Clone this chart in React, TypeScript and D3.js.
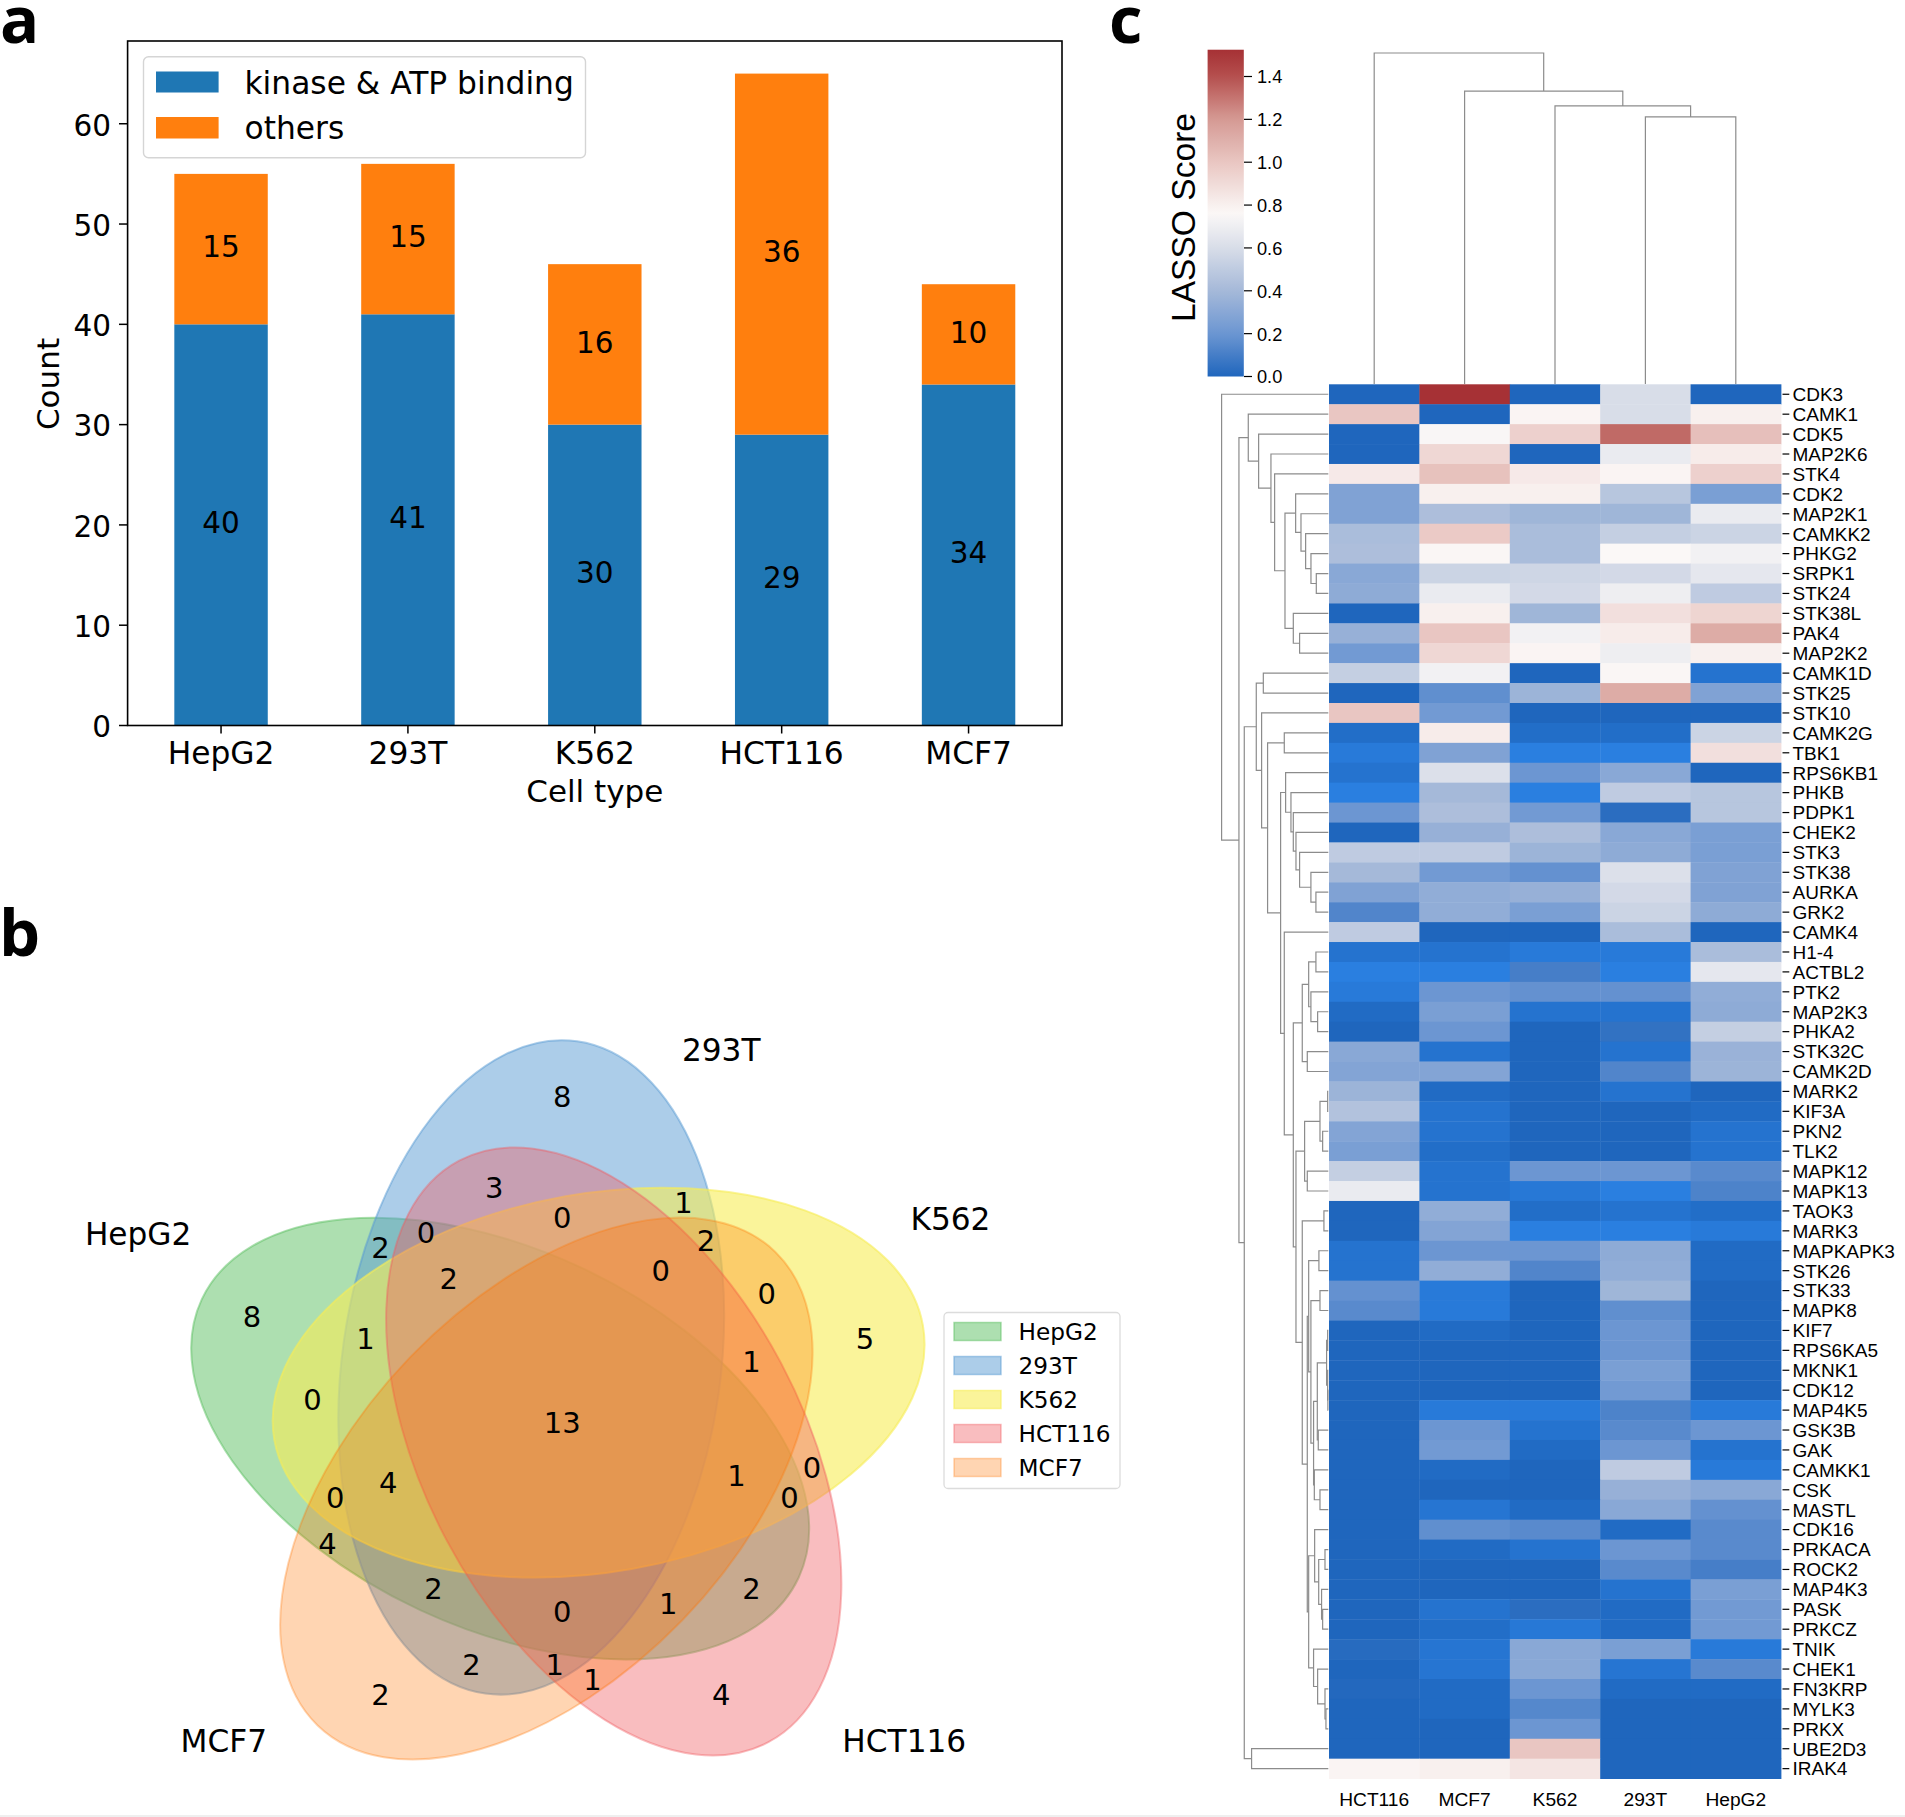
import React from "react";
import * as d3 from "d3";

/* ---------- panel a data ---------- */
const cellTypes = ["HepG2", "293T", "K562", "HCT116", "MCF7"];
const kinaseCounts = [40, 41, 30, 29, 34];
const otherCounts = [15, 15, 16, 36, 10];
const barTicks = [0, 10, 20, 30, 40, 50, 60];

/* ---------- panel b data (pyvenn 5-set layout, unit square) ---------- */
const vennNames = ["HepG2", "293T", "K562", "HCT116", "MCF7"];
const vennColors = ["rgb(92,192,98)", "rgb(90,155,212)", "rgb(246,236,86)", "rgb(241,90,96)", "rgb(255,117,0)"];
const vennAlpha = [0.5, 0.5, 0.6, 0.4, 0.3];
const vennEllipses: [number, number, number][] = [
  [0.428, 0.449, 155],
  [0.469, 0.543, 82],
  [0.558, 0.523, 10],
  [0.578, 0.432, 118],
  [0.489, 0.383, 46],
];
const vennNameAnchors: [number, number, string][] = [
  [0.02, 0.72, "end"],
  [0.72, 0.962, "middle"],
  [0.97, 0.74, "start"],
  [0.88, 0.05, "start"],
  [0.12, 0.05, "end"],
];
const vennRegions: [number, number, number][] = [
  [0.27, 0.11, 2], [0.72, 0.11, 4], [0.55, 0.13, 1], [0.91, 0.58, 5], [0.78, 0.64, 0], [0.84, 0.41, 0],
  [0.76, 0.55, 1], [0.51, 0.9, 8], [0.39, 0.15, 2], [0.42, 0.78, 3], [0.5, 0.15, 1], [0.67, 0.76, 1],
  [0.7, 0.71, 2], [0.51, 0.74, 0], [0.64, 0.67, 0], [0.1, 0.61, 8], [0.2, 0.31, 4], [0.76, 0.25, 2],
  [0.65, 0.23, 1], [0.18, 0.5, 0], [0.21, 0.37, 0], [0.81, 0.37, 0], [0.74, 0.4, 1], [0.27, 0.7, 2],
  [0.34, 0.25, 2], [0.33, 0.72, 0], [0.51, 0.22, 0], [0.25, 0.58, 1], [0.28, 0.39, 4], [0.36, 0.66, 2],
  [0.51, 0.47, 13],
];

/* ---------- panel c data ---------- */
const heatColumns = ["HCT116", "MCF7", "K562", "293T", "HepG2"];
const heatRows = [
  "CDK3", "CAMK1", "CDK5", "MAP2K6", "STK4", "CDK2", "MAP2K1", "CAMKK2", "PHKG2", "SRPK1",
  "STK24", "STK38L", "PAK4", "MAP2K2", "CAMK1D", "STK25", "STK10", "CAMK2G", "TBK1", "RPS6KB1",
  "PHKB", "PDPK1", "CHEK2", "STK3", "STK38", "AURKA", "GRK2", "CAMK4", "H1-4", "ACTBL2",
  "PTK2", "MAP2K3", "PHKA2", "STK32C", "CAMK2D", "MARK2", "KIF3A", "PKN2", "TLK2", "MAPK12",
  "MAPK13", "TAOK3", "MARK3", "MAPKAPK3", "STK26", "STK33", "MAPK8", "KIF7", "RPS6KA5", "MKNK1",
  "CDK12", "MAP4K5", "GSK3B", "GAK", "CAMKK1", "CSK", "MASTL", "CDK16", "PRKACA", "ROCK2",
  "MAP4K3", "PASK", "PRKCZ", "TNIK", "CHEK1", "FN3KRP", "MYLK3", "PRKX", "UBE2D3", "IRAK4",
];
// Values below 0 stand for the brighter blue tones visible among the near-zero cells of the picture.
const heatValues: number[][] = [
  [0, 1.52, 0, 0.6, 0], [1, 0, 0.78, 0.6, 0.8], [0, 0.75, 0.95, 1.33, 1.03], [0, 0.92, 0, 0.68, 0.82], [0.83, 1.02, 0.83, 0.78, 0.95],
  [0.27, 0.8, 0.8, 0.47, 0.25], [0.27, 0.43, 0.38, 0.38, 0.68], [0.42, 0.98, 0.42, 0.52, 0.55], [0.43, 0.77, 0.42, 0.76, 0.72], [0.3, 0.55, 0.56, 0.58, 0.66],
  [0.32, 0.68, 0.58, 0.7, 0.5], [0, 0.8, 0.38, 0.88, 0.93], [0.35, 1, 0.72, 0.82, 1.12], [0.22, 0.92, 0.78, 0.7, 0.8], [0.52, 0.72, 0, 0.77, -0.05],
  [0, 0.17, 0.37, 1.12, 0.27], [1, 0.22, 0, 0, 0], [-0.03, 0.82, -0.03, -0.03, 0.55], [-0.08, 0.27, -0.1, -0.1, 0.88], [-0.05, 0.62, 0.2, 0.3, 0],
  [-0.1, 0.4, -0.1, 0.5, 0.47], [0.2, 0.43, 0.22, 0.03, 0.47], [0, 0.35, 0.43, 0.3, 0.25], [0.5, 0.5, 0.37, 0.32, 0.25], [0.4, 0.22, 0.18, 0.62, 0.27],
  [0.27, 0.33, 0.35, 0.58, 0.27], [0.13, 0.33, 0.25, 0.55, 0.32], [0.5, 0, 0, 0.42, 0], [-0.05, -0.05, -0.08, -0.08, 0.42], [-0.1, -0.1, 0.1, -0.1, 0.66],
  [-0.08, 0.2, 0.18, 0.18, 0.33], [-0.02, 0.25, -0.05, -0.05, 0.32], [0, 0.2, 0, 0.05, 0.52], [0.3, -0.05, 0, -0.05, 0.36], [0.28, 0.28, 0, 0.13, 0.37],
  [0.37, -0.02, 0, -0.05, 0], [0.45, -0.05, 0, 0, -0.02], [0.28, -0.05, 0, 0, -0.05], [0.25, -0.03, 0, 0, -0.05], [0.52, -0.05, 0.2, 0.2, 0.15],
  [0.68, -0.05, -0.07, -0.1, 0.12], [0, 0.33, -0.03, -0.05, -0.03], [0, 0.28, -0.1, -0.1, -0.08], [-0.05, 0.2, 0.2, 0.32, -0.02], [-0.05, 0.33, 0.13, 0.33, -0.02],
  [0.18, -0.08, 0, 0.38, 0], [0.15, -0.08, 0, 0.17, 0], [0, -0.02, 0, 0.2, 0], [0, 0, 0, 0.2, 0], [0, 0, 0, 0.25, 0],
  [0, 0, 0, 0.22, 0], [0, -0.08, -0.08, 0.12, -0.08], [0, 0.2, -0.05, 0.15, 0.2], [0, 0.22, -0.02, 0.2, -0.05], [0, -0.02, 0, 0.5, -0.08],
  [0, 0, 0, 0.35, 0.3], [0, -0.06, -0.02, 0.3, 0.18], [0, 0.17, 0.15, -0.02, 0.15], [0, -0.02, -0.05, 0.2, 0.15], [0, 0, 0, 0.15, 0.1],
  [0, 0, 0, -0.05, 0.25], [0, -0.05, 0.03, -0.02, 0.22], [0, -0.03, -0.07, -0.02, 0.22], [0.02, -0.06, 0.3, 0.25, -0.08], [0, -0.06, 0.3, -0.06, 0.15],
  [0.01, -0.02, 0.2, -0.02, -0.02], [0, -0.02, 0.14, 0, 0], [0, 0, 0.2, 0, 0], [0, 0, 1, 0, 0], [0.78, 0.8, 0.85, 0, 0],
];
const colorDomain = [-0.1, 0, 0.2, 0.4, 0.6, 0.76, 1.0, 1.2, 1.4, 1.52];
const colorRange = ["#2a7fe0", "#1f66bd", "#6c96d2", "#a5b9d9", "#d8dde8", "#fbf8f7", "#e9c6c2", "#d59a94", "#b5504e", "#a63135"];
const colorbarTicks = [0, 0.2, 0.4, 0.6, 0.8, 1.0, 1.2, 1.4];
const colorbarMax = 1.525;

type Node = { h: number; a: Node | string; b: Node | string };
const n = (h: number, a: Node | string, b: Node | string): Node => ({ h, a, b });

const columnTree = n(1, "HCT116", n(0.885, "MCF7", n(0.84, "K562", n(0.807, "293T", "HepG2"))));

const upperGroup = n(0.406,
  n(0.306, "CDK2", n(0.256, "MAP2K1", n(0.2125, "CAMKK2", n(0.1625, "PHKG2", n(0.1125, "SRPK1", "STK24"))))),
  n(0.328, "STK38L", n(0.269, "PAK4", "MAP2K2")));
const camk1Group = n(0.75, "CAMK1", n(0.653, "CDK5", n(0.5375, "MAP2K6", n(0.503, "STK4", upperGroup))));
const rpsGroup = n(0.4, "RPS6KB1", n(0.35, "PHKB", n(0.328, "PDPK1", n(0.303, "CHEK2", n(0.269, "STK3", n(0.163, "STK38", n(0.116, "AURKA", "GRK2")))))));
const h14Group = n(0.244,
  n(0.184, n(0.116, "H1-4", "ACTBL2"), n(0.163, "PTK2", n(0.1, "MAP2K3", "PHKA2"))),
  n(0.197, "STK32C", "CAMK2D"));
const markGroup = n(0.222,
  n(0.078, n(0.006, "MARK2", "KIF3A"), n(0.053, "PKN2", "TLK2")),
  n(0.197, "MAPK12", "MAPK13"));
const kif7Group = n(0.016, n(0.006, "KIF7", "RPS6KA5"), n(0.006, "MKNK1", n(0.004, "CDK12", "MAP4K5")));
const stk33Group = n(0.163,
  n(0.078, "STK33", "MAPK8"),
  n(0.138, n(0.103, kif7Group, n(0.094, "GSK3B", "GAK")), n(0.131, "CAMKK1", n(0.078, "CSK", "MASTL"))));
const mapkapGroup = n(0.184, n(0.088, "MAPKAPK3", "STK26"), stk33Group);
const cdk16Group = n(0.128, "CDK16", n(0.09, n(0.031, "PRKACA", "ROCK2"), n(0.063, "MAP4K3", n(0.053, "PASK", "PRKCZ"))));
const tnikGroup = n(0.138, "TNIK", n(0.1, "CHEK1", n(0.031, "FN3KRP", n(0.022, "MYLK3", "PRKX"))));
const lowGroup = n(0.303, markGroup, n(0.244, n(0.041, "TAOK3", "MARK3"), n(0.197, mapkapGroup, n(0.184, cdk16Group, tnikGroup))));
const camk4Group = n(0.4125, "CAMK4", n(0.328, h14Group, lowGroup));
const stk10Group = n(0.625, "STK10", n(0.569, n(0.4125, "CAMK2G", "TBK1"), n(0.447, rpsGroup, camk4Group)));
const bigGroup = n(0.675, n(0.609, "CAMK1D", "STK25"), stk10Group);
const rowTree = n(1, "CDK3", n(0.8375, camk1Group, n(0.7875, bigGroup, n(0.719, "UBE2D3", "IRAK4"))));

/* ---------- helpers ---------- */
const SANS = "'DejaVu Sans'";
const ARIAL = "'Liberation Sans'";

// Returns link segments of a dendrogram: pos(leaf) along the leaf axis, dist(h) along the height axis.
function dendroPaths(tree: Node, pos: (s: string) => number, dist: (h: number) => number, horizontal: boolean) {
  const paths: string[] = [];
  const walk = (t: Node | string): { p: number; h: number } => {
    if (typeof t === "string") return { p: pos(t), h: 0 };
    const a = walk(t.a);
    const b = walk(t.b);
    const path = d3.path();
    const pt = (p: number, h: number) => (horizontal ? [dist(h), p] : [p, dist(h)]) as [number, number];
    path.moveTo(...pt(a.p, a.h));
    path.lineTo(...pt(a.p, t.h));
    path.lineTo(...pt(b.p, t.h));
    path.lineTo(...pt(b.p, b.h));
    paths.push(path.toString());
    return { p: (a.p + b.p) / 2, h: t.h };
  };
  walk(tree);
  return paths;
}

function BarPanel() {
  const x = d3.scaleLinear().domain([-0.5, 4.5]).range([127.6, 1062]);
  const y = d3.scaleLinear().domain([0, 68.25]).range([725.5, 41]);
  const rows = cellTypes.map((c, i) => ({ c, i, kinase: kinaseCounts[i], others: otherCounts[i] }));
  const stack = d3.stack<any>().keys(["kinase", "others"])(rows);
  const colors = ["#1f77b4", "#ff7f0e"];
  const bw = x(0.25) - x(0);
  return (
    <g fontFamily={SANS} fill="#000">
      {stack.map((s, si) =>
        s.map((d, i) => (
          <g key={si + "-" + i}>
            <rect x={x(i) - bw} width={bw * 2} y={y(d[1])} height={y(d[0]) - y(d[1])} fill={colors[si]} />
            <text x={x(i)} y={(y(d[0]) + y(d[1])) / 2} dy="0.28em" textAnchor="middle" fontSize={29.5}>
              {d[1] - d[0]}
            </text>
          </g>
        ))
      )}
      <rect x={127.6} y={41} width={934.4} height={684.5} fill="none" stroke="#000" strokeWidth={1.6} />
      {barTicks.map((t) => (
        <g key={t}>
          <line x1={119} x2={127.6} y1={y(t)} y2={y(t)} stroke="#000" strokeWidth={1.5} />
          <text x={111} y={y(t)} dy="0.4em" textAnchor="end" fontSize={29.5}>{t}</text>
        </g>
      ))}
      {cellTypes.map((c, i) => (
        <g key={c}>
          <line x1={x(i)} x2={x(i)} y1={725.5} y2={733.5} stroke="#000" strokeWidth={1.5} />
          <text x={x(i)} y={763.5} textAnchor="middle" fontSize={31.3}>{c}</text>
        </g>
      ))}
      <text x={594.8} y={801.5} textAnchor="middle" fontSize={31}>Cell type</text>
      <text transform="translate(59,384) rotate(-90)" textAnchor="middle" fontSize={31}>Count</text>
      <rect x={143.5} y={56.7} width={442} height={101} rx={5} fill="#fff" fillOpacity={0.8} stroke="#d5d5d5" strokeWidth={1.4} />
      <rect x={156} y={71.5} width={62.6} height={21} fill={colors[0]} />
      <rect x={156} y={117} width={62.6} height={21.5} fill={colors[1]} />
      <text x={244.5} y={94} fontSize={31.3}>kinase &amp; ATP binding</text>
      <text x={244.5} y={138.5} fontSize={31.3}>others</text>
    </g>
  );
}

function VennPanel() {
  const x = d3.scaleLinear().domain([0, 1]).range([176.2, 933.2]);
  const y = d3.scaleLinear().domain([0, 1]).range([1778.5, 1021.5]);
  const k = x(1) - x(0);
  const legendY = d3.scaleLinear().domain([0, 4]).range([1331.5, 1467.5]);
  return (
    <g fontFamily={SANS} fill="#000">
      {vennEllipses.map(([cx, cy, a], i) => (
        <ellipse
          key={i}
          cx={x(cx)}
          cy={y(cy)}
          rx={(0.87 / 2) * k}
          ry={(0.5 / 2) * k}
          transform={`rotate(${-a} ${x(cx)} ${y(cy)})`}
          fill={vennColors[i]}
          fillOpacity={vennAlpha[i]}
          stroke={vennColors[i]}
          strokeOpacity={vennAlpha[i]}
          strokeWidth={2}
        />
      ))}
      {vennRegions.map(([rx, ry, v], i) => (
        <text key={i} x={x(rx)} y={y(ry)} dy="0.34em" textAnchor="middle" fontSize={29}>{v}</text>
      ))}
      {vennNames.map((name, i) => (
        <text key={name} x={x(vennNameAnchors[i][0])} y={y(vennNameAnchors[i][1])} dy="0.36em" textAnchor={vennNameAnchors[i][2] as any} fontSize={31.2}>
          {name}
        </text>
      ))}
      <rect x={944} y={1312.5} width={176} height={176} rx={4} fill="#fff" stroke="#dcdcdc" strokeWidth={1.3} />
      {vennNames.map((name, i) => (
        <g key={name}>
          <rect x={954} y={legendY(i) - 9} width={47} height={18} fill={vennColors[i]} fillOpacity={vennAlpha[i]} stroke={vennColors[i]} strokeOpacity={vennAlpha[i]} strokeWidth={1.5} />
          <text x={1018.5} y={legendY(i)} dy="0.36em" fontSize={23.2}>{name}</text>
        </g>
      ))}
    </g>
  );
}

function HeatPanel() {
  const xBand = d3.scaleBand().domain(heatColumns).range([1329, 1781]);
  const yBand = d3.scaleBand().domain(heatRows).range([384.3, 1778.6]);
  const color = d3.scaleLinear<string>().domain(colorDomain).range(colorRange).clamp(true);
  const barY = d3.scaleLinear().domain([0, 1.4]).range([376.5, 76.5]);
  const gradientStops = d3.range(0, 41).map((i) => (i / 40) * colorbarMax);
  const rowCenter = (s: string) => yBand(s)! + yBand.bandwidth() / 2;
  const colCenter = (s: string) => xBand(s)! + xBand.bandwidth() / 2;
  const rowLinks = dendroPaths(rowTree, rowCenter, d3.scaleLinear().domain([0, 1]).range([1328.3, 1221.6]), true);
  const colLinks = dendroPaths(columnTree, colCenter, d3.scaleLinear().domain([0, 1]).range([384, 53]), false);
  return (
    <g fontFamily={ARIAL} fill="#000">
      <defs>
        <linearGradient id="lasso" x1="0" x2="0" y1="1" y2="0">
          {gradientStops.map((v) => (
            <stop key={v} offset={v / colorbarMax} stopColor={color(v)} />
          ))}
        </linearGradient>
      </defs>
      <rect x={1207.6} y={barY(colorbarMax)} width={36.2} height={barY(0) - barY(colorbarMax)} fill="url(#lasso)" />
      {colorbarTicks.map((t) => (
        <g key={t}>
          <line x1={1244} x2={1252} y1={barY(t)} y2={barY(t)} stroke="#000" strokeWidth={1.2} />
          <text x={1257} y={barY(t)} dy="0.38em" fontSize={18.2}>{t.toFixed(1)}</text>
        </g>
      ))}
      <text transform="translate(1195,217.5) rotate(-90)" textAnchor="middle" fontSize={33.6}>LASSO Score</text>
      {[...rowLinks, ...colLinks].map((d, i) => (
        <path key={i} d={d} fill="none" stroke="#8c8c8c" strokeWidth={1.2} />
      ))}
      {heatRows.map((r, ri) =>
        heatColumns.map((c, ci) => (
          <rect key={r + c} x={xBand(c)} y={yBand(r)} width={xBand.bandwidth() + 0.4} height={yBand.bandwidth() + 0.4} fill={color(heatValues[ri][ci])} />
        ))
      )}
      {heatRows.map((r) => (
        <g key={r}>
          <line x1={1782.5} x2={1789.3} y1={rowCenter(r)} y2={rowCenter(r)} stroke="#000" strokeWidth={1.2} />
          <text x={1792.5} y={rowCenter(r)} dy="0.36em" fontSize={19}>{r}</text>
        </g>
      ))}
      {heatColumns.map((c) => (
        <text key={c} x={colCenter(c)} y={1805.5} textAnchor="middle" fontSize={19.2}>{c}</text>
      ))}
    </g>
  );
}

export default function App() {
  const letter = { fontFamily: "'Open Sans'", fontWeight: 700, fontSize: 65 } as const;
  return (
    <svg width={1905} height={1817} viewBox="0 0 1905 1817" style={{ position: "absolute", left: 0, top: 0, background: "#fff" }}>
      <BarPanel />
      <VennPanel />
      <HeatPanel />
      <text x={0} y={43} {...letter}>a</text>
      <text x={-1} y={956} {...letter}>b</text>
      <text x={1109} y={43} {...letter}>c</text>
      <rect x={0} y={1815} width={1905} height={2} fill="#efefef" />
    </svg>
  );
}
